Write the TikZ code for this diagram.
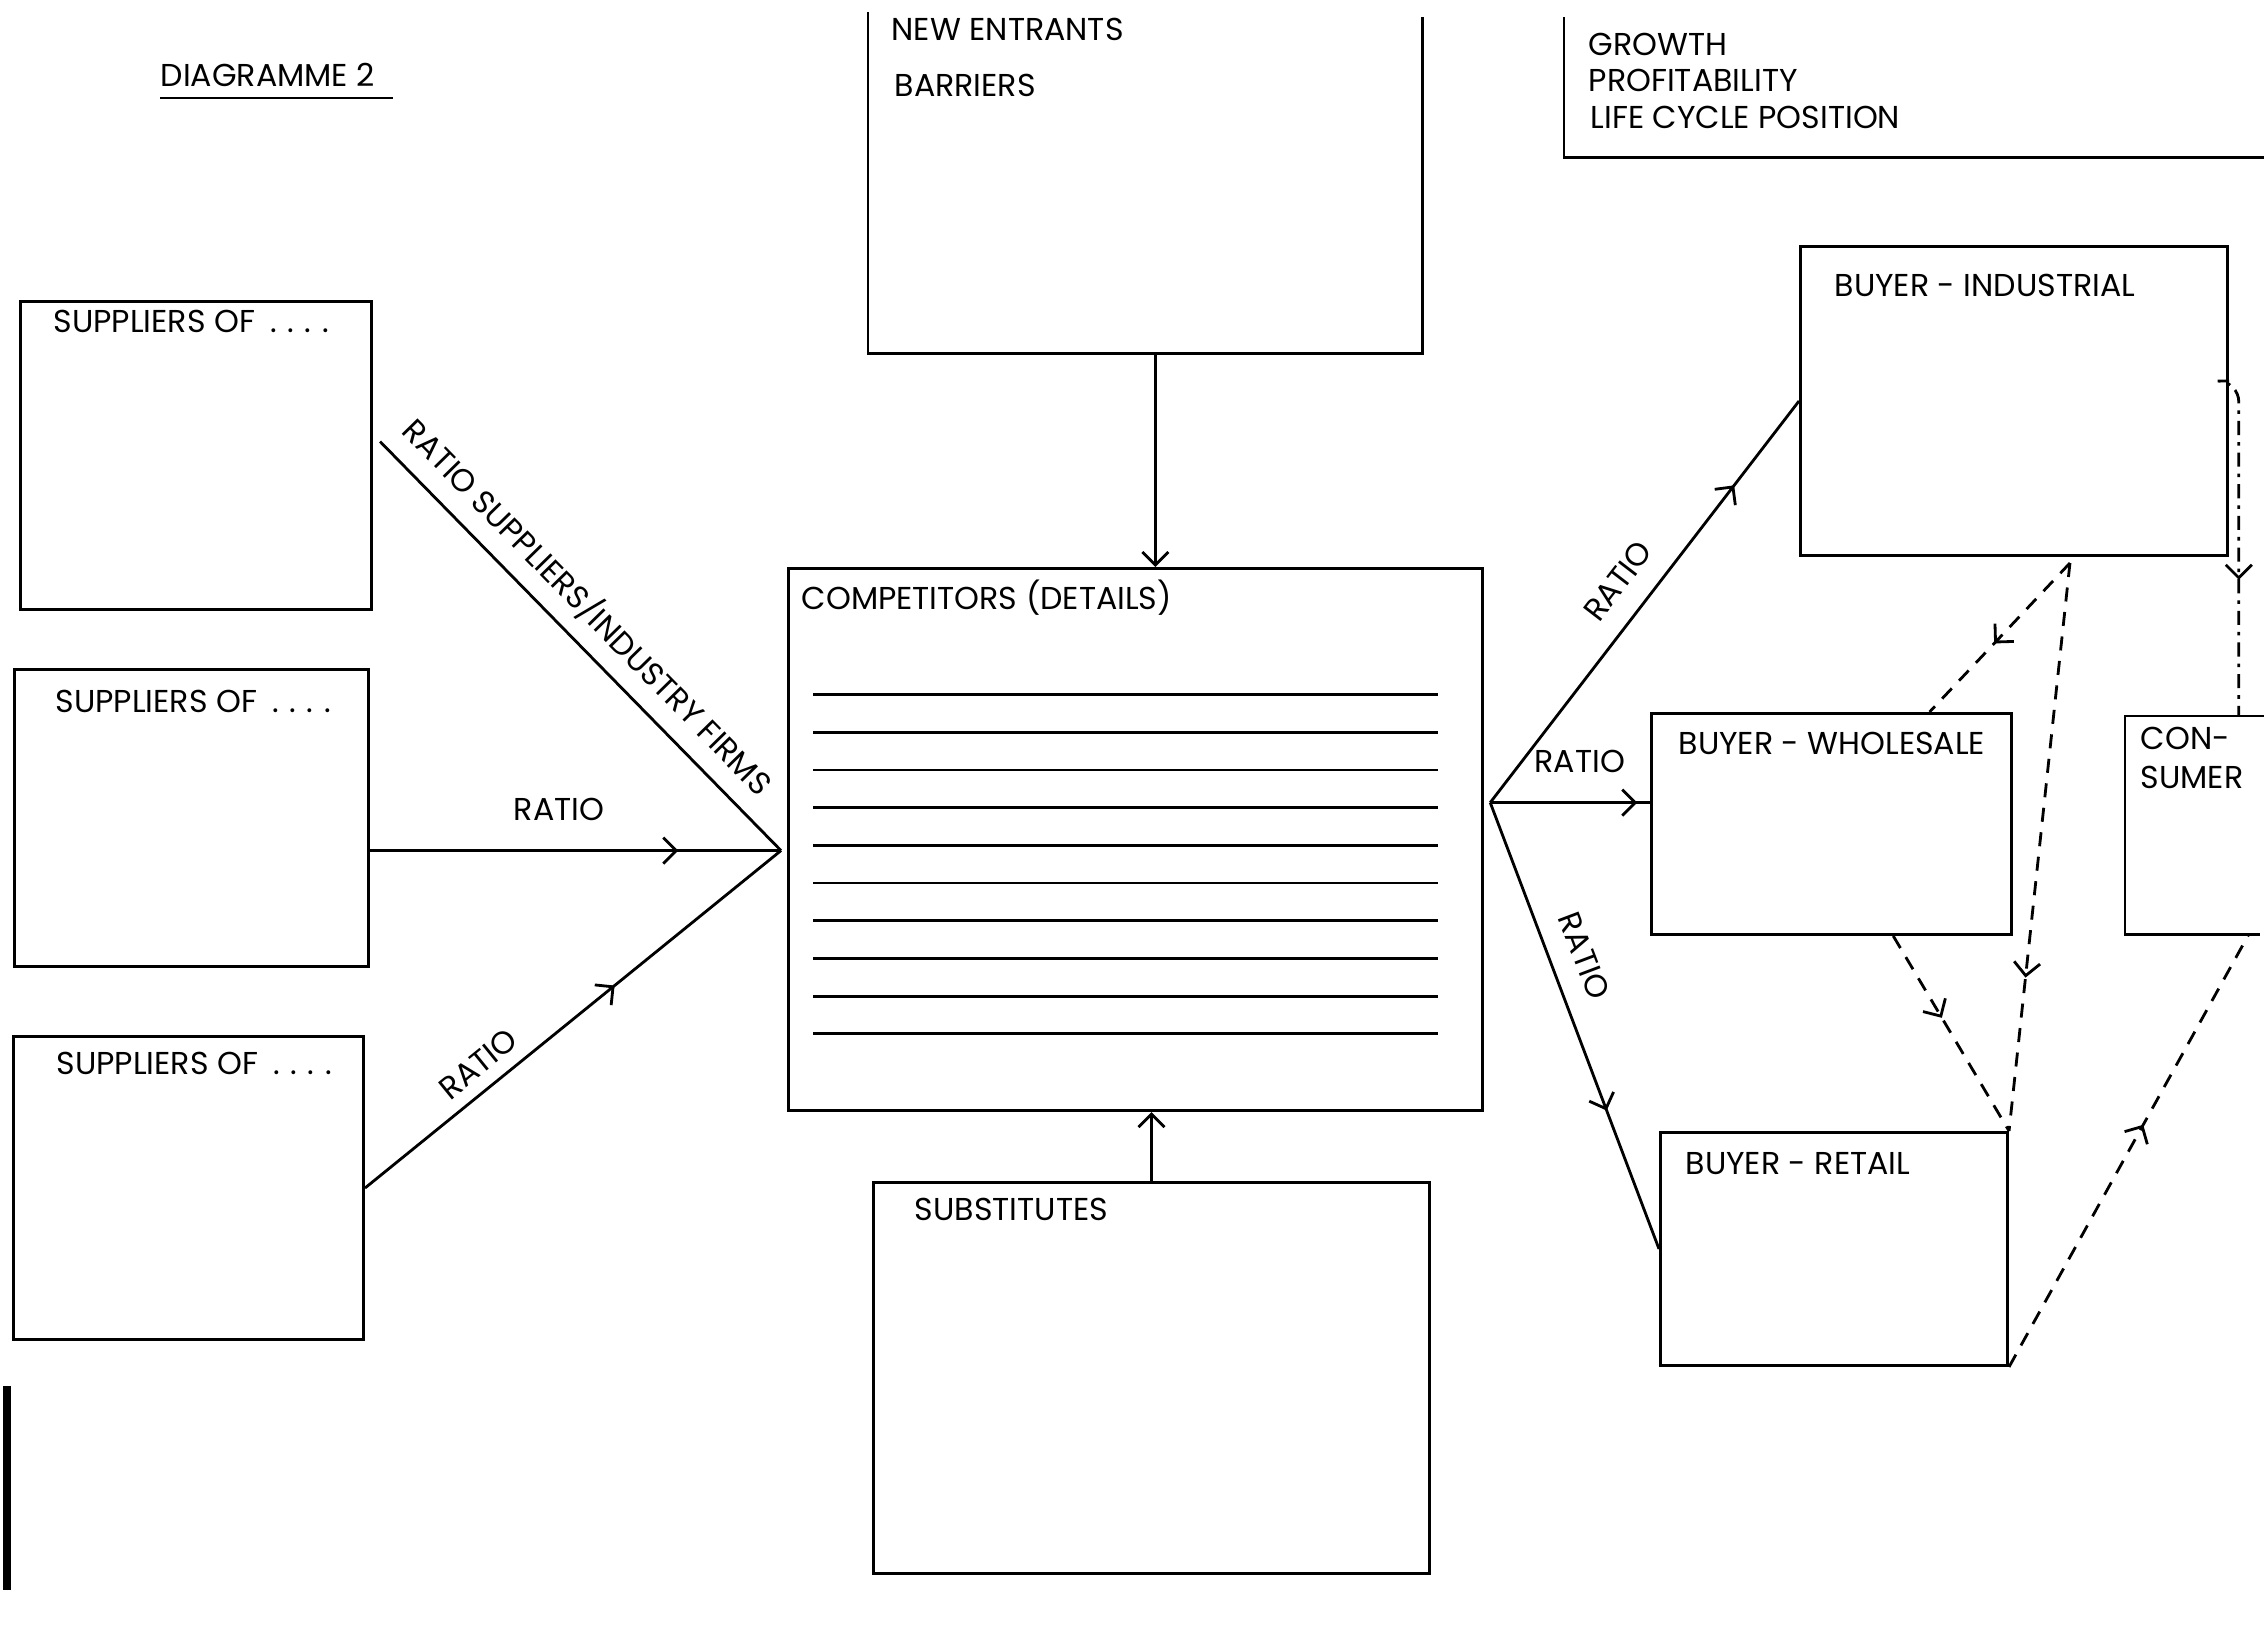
\documentclass[tikz,border=0pt]{standalone}
\usepackage{fontspec}
\setmainfont{Poppins}
\usetikzlibrary{arrows.meta,decorations.markings,calc}
\newcommand{\fourdots}{.\hspace{3pt}.\hspace{3pt}.\hspace{3pt}.}
\begin{document}
\begin{tikzpicture}[x=0.01cm,y=-0.01cm,
  every node/.style={font=\fontsize{9}{11}\selectfont},
  box/.style={draw, rectangle, line width=0.8pt, anchor=north west, inner sep=0pt},
  openbox/.style={rectangle, anchor=north west, inner sep=0pt},
  txt/.style={anchor=base west, inner sep=0pt},
  ln/.style={line width=0.8pt},
  tipend/.style={-{Straight Barb[length=1.3mm,width=2.6mm]}},
  midarr/.style={postaction={decorate},decoration={markings,mark=at position #1 with {\arrow[solid]{Straight Barb[length=1.3mm,width=2.6mm]}}}},
  dsh/.style={line width=0.8pt, dash pattern=on 4pt off 3pt},
  dshdot/.style={line width=0.8pt, dash pattern=on 4pt off 2pt on 1pt off 2pt},
  lbl/.style={inner sep=2pt}
]
\useasboundingbox (0,0) rectangle (2264,1624);

% boxes
\node[box, minimum width=3.51cm, minimum height=3.08cm] (sup1) at (19,300) {};
\node[box, minimum width=3.54cm, minimum height=2.97cm] (sup2) at (13,668) {};
\node[box, minimum width=3.50cm, minimum height=3.03cm] (sup3) at (12,1035) {};
\node[box, minimum width=6.94cm, minimum height=5.42cm] (comp) at (787,567) {};
\node[box, minimum width=5.56cm, minimum height=3.91cm] (subs) at (872,1181) {};
\node[box, minimum width=4.27cm, minimum height=3.09cm] (bi) at (1799,245) {};
\node[box, minimum width=3.60cm, minimum height=2.21cm] (bw) at (1650,712) {};
\node[box, minimum width=3.47cm, minimum height=2.33cm] (br) at (1659,1131) {};

\node[openbox, minimum width=5.53cm, minimum height=3.40cm] (ne) at (868,12) {};
\draw[ln] (ne.north west) -- (ne.south west) -- (ne.south east) -- ($(ne.north east)+(0,5)$);
\node[openbox, minimum width=7.00cm, minimum height=1.39cm] (grow) at (1564,17) {};
\draw[ln] (grow.north west) -- (grow.south west) -- (grow.south east);
\node[openbox, minimum width=1.39cm, minimum height=2.17cm] (cons) at (2125,716) {};
\draw[ln] (cons.north east) -- (cons.north west) -- (cons.south west) -- ($(cons.south east)+(-6,0)$);

% ruled lines in competitors box
\foreach \k in {0,...,9} {
  \pgfmathsetmacro\yy{694.5+37.7*\k}
  \draw[ln] (813,\yy) -- (1438,\yy);
}

% texts
\node[txt] (tdiag) at (160,87) {DIAGRAMME 2};
\draw[ln] ($(tdiag.base west)+(0,11)$) -- ($(tdiag.base east)+(18,11)$);
\node[txt] (tne) at (891,40) {NEW ENTRANTS};
\node[txt] (tbar) at (894,97) {BARRIERS};
\node[txt] (tgrow) at (1588,55) {GROWTH};
\node[txt] (tprof) at (1588,91) {PROFITABILITY};
\node[txt] (tlife) at (1590,128) {LIFE CYCLE POSITION};
\node[txt] (ts1) at (53,332) {SUPPLIERS OF \hspace{2pt}\fourdots};
\node[txt] (ts2) at (55,712) {SUPPLIERS OF \hspace{2pt}\fourdots};
\node[txt] (ts3) at (56,1074) {SUPPLIERS OF \hspace{2pt}\fourdots};
\node[txt] (tcomp) at (801,609) {COMPETITORS (DETAILS)};
\node[txt] (tsubs) at (914,1220) {SUBSTITUTES};
\node[txt] (tbi) at (1834,296) {BUYER - INDUSTRIAL};
\node[txt] (tbw) at (1678,754) {BUYER - WHOLESALE};
\node[txt] (tbr) at (1685,1174) {BUYER - RETAIL};
\node[txt] (tcon1) at (2140,749) {CON-};
\node[txt] (tcon2) at (2140,788) {SUMER};

% left margin bar
\draw[line width=2pt] (7,1386) -- (7,1590);

% supplier connectors
\coordinate (conv) at ($(comp.west)+(-6,11)$);
\coordinate (s1) at ($(sup1.east)+(7,-14)$);
\draw[ln] (s1) -- node[lbl, sloped, above=2pt, pos=0.46] (l1) {RATIO SUPPLIERS/INDUSTRY FIRMS} (conv);
\draw[ln, midarr=0.75] (sup2.east |- conv) -- node[lbl, above=6pt, pos=0.46] (l2) {RATIO} (conv);
\draw[ln, midarr=0.6] (sup3.east) -- node[lbl, sloped, above=1.5pt, pos=0.31] (l3) {RATIO} (conv);

% vertical arrows
\draw[ln, tipend] ($(ne.south)+(10,0)$) -- ($(ne.south |- comp.north)+(10,0)$);
\draw[ln, tipend] (subs.north) -- (subs.north |- comp.south);

% buyer connectors
\coordinate (rc) at ($(comp.east)+(6,-37)$);
\draw[ln, midarr=0.79] (rc) -- node[lbl, sloped, above=4pt, pos=0.5] (r1) {RATIO} (bi.west);
\draw[ln, midarr=0.92] (rc) -- node[lbl, above=6pt, pos=0.56] (r2) {RATIO} (bw.west |- rc);
\draw[ln, midarr=0.69] (rc) -- node[lbl, sloped, above=4pt, pos=0.37] (r3) {RATIO} (br.west);

% dashed flows
\coordinate (pbi) at ($(bi.south west)!0.63!(bi.south east)+(0,6)$);
\draw[dsh, midarr=0.54] (pbi) -- ($(bw.north west)!0.77!(bw.north east)$);
\draw[dsh, midarr=0.73] (pbi) -- (br.north east);
\draw[dsh, midarr=0.42] ($(bw.south west)!0.67!(bw.south east)$) -- (br.north east);
\draw[dsh, midarr=0.56] (br.south east) -- ($(cons.south west)!0.88!(cons.south east)$);
\draw[dshdot, midarr=0.62, rounded corners=6] ($(bi.east)+(0,-20)$) -| ($(cons.north west)!0.81!(cons.north east)$);
\end{tikzpicture}
\end{document}
